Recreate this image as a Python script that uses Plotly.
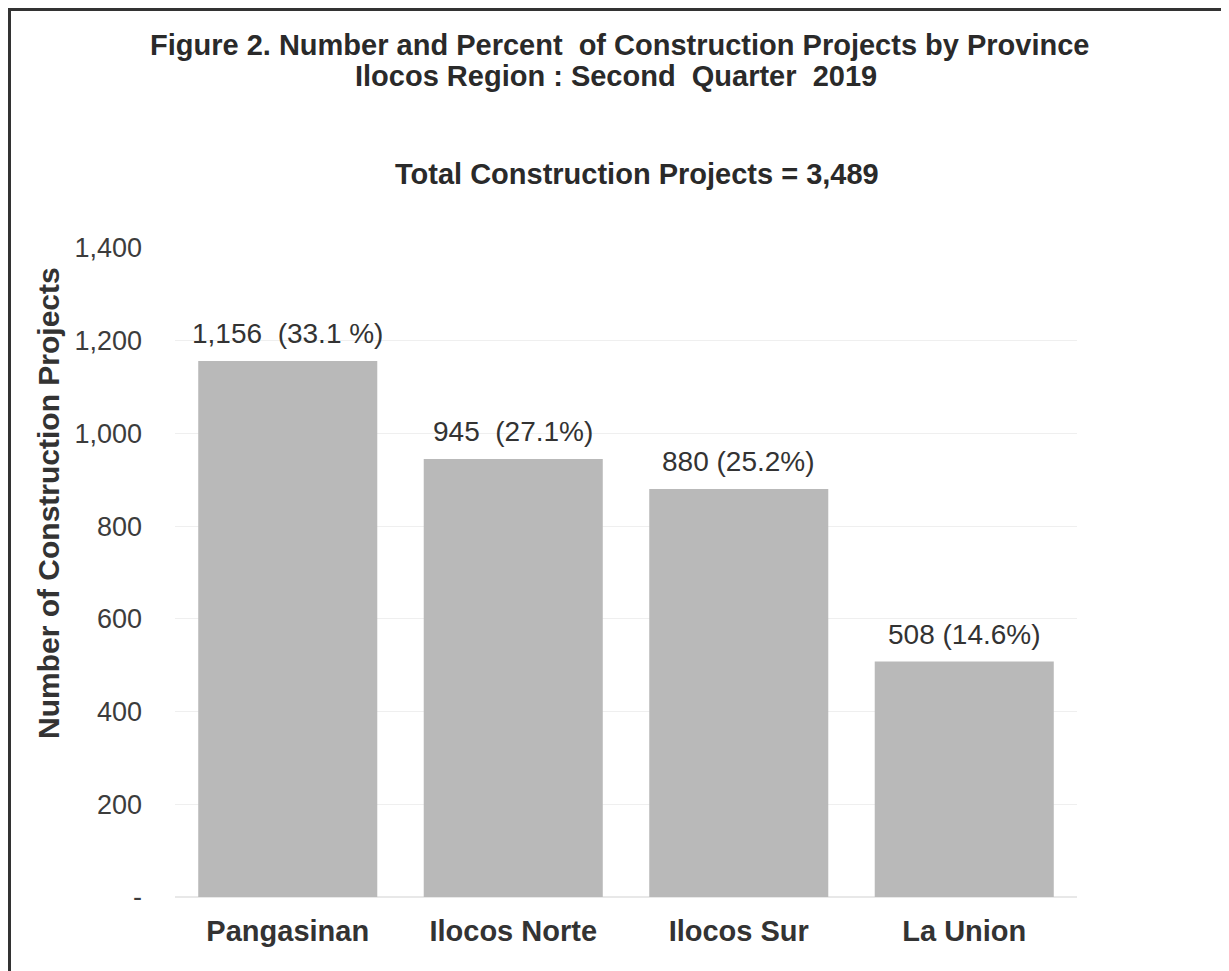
import plotly.graph_objects as go

provinces = ["Pangasinan", "Ilocos Norte", "Ilocos Sur", "La Union"]
projects = [1156, 945, 880, 508]
bar_labels = ["1,156  (33.1 %)", "945  (27.1%)", "880 (25.2%)", "508 (14.6%)"]
tick_vals = [0, 200, 400, 600, 800, 1000, 1200, 1400]
tick_text = ["-", "200", "400", "600", "800", "1,000", "1,200", "1,400"]

FONT = "Liberation Sans, Arial, sans-serif"
OFF = 8  # page body margin

W, H = 1221, 963
# plot area in page coords: x 175..1077, y 248..897.5
L = 175 - OFF
R = W - (1077 - OFF)
T = 248 - OFF
B = H - (897 - OFF)
pw, ph = W - L - R, H - T - B


def px(x):
    return (x - OFF - L) / pw


def py(y):
    return (H - B - (y - OFF)) / ph


fig = go.Figure()
fig.add_trace(go.Bar(
    x=provinces, y=projects,
    marker=dict(color="#b9b9b9", line=dict(width=0)),
    hoverinfo="x+y",
))

for p, v, t in zip(provinces, projects, bar_labels):
    fig.add_annotation(x=p, y=v, text=t, showarrow=False, yanchor="bottom",
                       yshift=10, font=dict(family=FONT, size=28, color="#333333"))

fig.add_shape(type="rect", xref="paper", yref="paper",
              x0=px(9.5), x1=px(1225), y0=py(990), y1=py(9.5),
              line=dict(color="#333333", width=3), fillcolor="rgba(0,0,0,0)", layer="below")

fig.add_annotation(xref="paper", yref="paper", x=px(619), y=py(45),
                   text="<b>Figure 2. Number and Percent  of Construction Projects by Province</b>",
                   showarrow=False, font=dict(family=FONT, size=29, color="#2a2a2a"),
                   xanchor="center", yanchor="middle")
fig.add_annotation(xref="paper", yref="paper", x=px(616), y=py(76),
                   text="<b>Ilocos Region : Second  Quarter  2019</b>",
                   showarrow=False, font=dict(family=FONT, size=29, color="#2a2a2a"),
                   xanchor="center", yanchor="middle")
fig.add_annotation(xref="paper", yref="paper", x=px(637), y=py(174),
                   text="<b>Total Construction Projects = 3,489</b>",
                   showarrow=False, font=dict(family=FONT, size=29, color="#2a2a2a"),
                   xanchor="center", yanchor="middle")
fig.add_annotation(xref="paper", yref="paper", x=px(48), y=py(503),
                   text="<b>Number of Construction Projects</b>", textangle=-90,
                   showarrow=False, font=dict(family=FONT, size=30, color="#333333"),
                   xanchor="center", yanchor="middle")

fig.update_layout(
    width=W, height=H,
    margin=dict(l=L, r=R, t=T, b=B, autoexpand=False),
    paper_bgcolor="white", plot_bgcolor="white",
    bargap=0.206,
    showlegend=False,
    font=dict(family=FONT, size=27, color="#404040"),
)
fig.update_xaxes(showline=False, showgrid=False, ticks="",
                 tickfont=dict(family=FONT, size=29, color="#333333", weight="bold"),
                 ticklabelstandoff=14)
fig.update_yaxes(range=[0, 1400], tickvals=tick_vals, ticktext=tick_text,
                 showgrid=True, gridcolor="#efefef", gridwidth=1,
                 zeroline=True, zerolinecolor="#e8e8e8", showline=False, ticks="",
                 tickfont=dict(family=FONT, size=27, color="#3c3c3c"),
                 ticklabelstandoff=32)

fig.write_html("out.html")
